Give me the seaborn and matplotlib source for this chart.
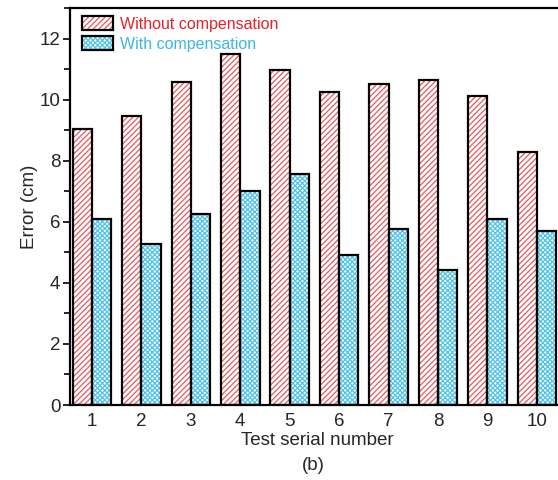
import matplotlib
matplotlib.use("Agg")
import matplotlib.pyplot as plt
import seaborn as sns
import pandas as pd
from matplotlib.patches import Patch, Rectangle
from matplotlib.legend_handler import HandlerBase
from matplotlib.ticker import MultipleLocator

tests = ["1", "2", "3", "4", "5", "6", "7", "8", "9", "10"]
without_comp = [9.05, 9.45, 10.57, 11.49, 10.96, 10.25, 10.51, 10.65, 10.12, 8.30]
with_comp = [6.08, 5.26, 6.26, 7.00, 7.55, 4.92, 5.76, 4.41, 6.10, 5.71]
series = ["Without compensation", "With compensation"]

red_hatch = "#e8585c"
blue_hatch = "#4fc4e8"
red_text = "#e8202a"
blue_text = "#3cb6e6"

df = pd.DataFrame({
    "Test": tests * 2,
    "Error": without_comp + with_comp,
    "Series": [series[0]] * len(tests) + [series[1]] * len(tests),
})

sns.set_theme(style="ticks")
plt.rcParams["font.family"] = ["Liberation Sans", "DejaVu Sans"]
plt.rcParams["hatch.linewidth"] = 0.9

fig = plt.figure(figsize=(5.58, 4.80), dpi=100)
ax = fig.add_axes([70 / 558, 75 / 480, (564 - 70) / 558, (405 - 8) / 480])

# hatch layer (hatch drawn in edge colour, no outline)
sns.barplot(data=df, x="Test", y="Error", hue="Series", hue_order=series,
            palette=["white", "white"], width=0.78, ax=ax, legend=False,
            linewidth=0, saturation=1)
hatches = [("//////", red_hatch), ("xxxxxxx", blue_hatch)]
for i, cont in enumerate(ax.containers):
    h, c = hatches[i]
    for p in cont:
        p.set_hatch(h)
        p.set_facecolor("white")
        p.set_edgecolor(c)
        p.set_linewidth(0)

# outline layer
n_before = len(ax.containers)
sns.barplot(data=df, x="Test", y="Error", hue="Series", hue_order=series,
            palette=["white", "white"], width=0.78, ax=ax, legend=False,
            linewidth=1.6, edgecolor="black", saturation=1)
for cont in ax.containers[n_before:]:
    for p in cont:
        p.set_facecolor("none")
        p.set_edgecolor("black")
        p.set_linewidth(1.6)

ax.set_ylim(0, 13)
ax.set_xlim(-0.445, 9.55)
ax.yaxis.set_major_locator(MultipleLocator(2))
ax.yaxis.set_minor_locator(MultipleLocator(1))
ax.tick_params(axis="y", which="major", direction="out", length=5, width=1.4, labelsize=13.5, pad=2)
ax.tick_params(axis="y", which="minor", direction="out", length=4, width=1.4)
ax.tick_params(axis="x", which="both", length=0, labelsize=13.5, pad=6)
for s in ax.spines.values():
    s.set_linewidth(1.6)
    s.set_color("black")
ax.spines["right"].set_visible(False)

ax.set_ylabel("Error (cm)", fontsize=13.5, labelpad=1)
ax.set_xlabel("Test serial number", fontsize=13.5, labelpad=1)
fig.text(313 / 558, 15 / 480, "(b)", ha="center", va="center", fontsize=13.5)


class HatchHandler(HandlerBase):
    def __init__(self, hatch, color):
        super().__init__()
        self.hatch = hatch
        self.color = color

    def create_artists(self, legend, orig_handle, xdescent, ydescent, width, height, fontsize, trans):
        r1 = Rectangle((-xdescent, -ydescent), width, height, facecolor="white",
                       edgecolor=self.color, hatch=self.hatch, linewidth=0, transform=trans)
        r2 = Rectangle((-xdescent, -ydescent), width, height, facecolor="none",
                       edgecolor="black", linewidth=1.6, transform=trans)
        return [r1, r2]


h1, h2 = Patch(), Patch()
leg = ax.legend([h1, h2], series, loc="upper left", frameon=False, fontsize=11.5,
                handlelength=1.95, handleheight=0.95, handletextpad=0.45,
                labelspacing=0.28, borderaxespad=0.0, bbox_to_anchor=(0.011, 0.995),
                handler_map={h1: HatchHandler("//////", red_hatch),
                             h2: HatchHandler("xxxxxxx", blue_hatch)})
leg.get_texts()[0].set_color(red_text)
leg.get_texts()[1].set_color(blue_text)

fig.savefig("out.png", dpi=100)
